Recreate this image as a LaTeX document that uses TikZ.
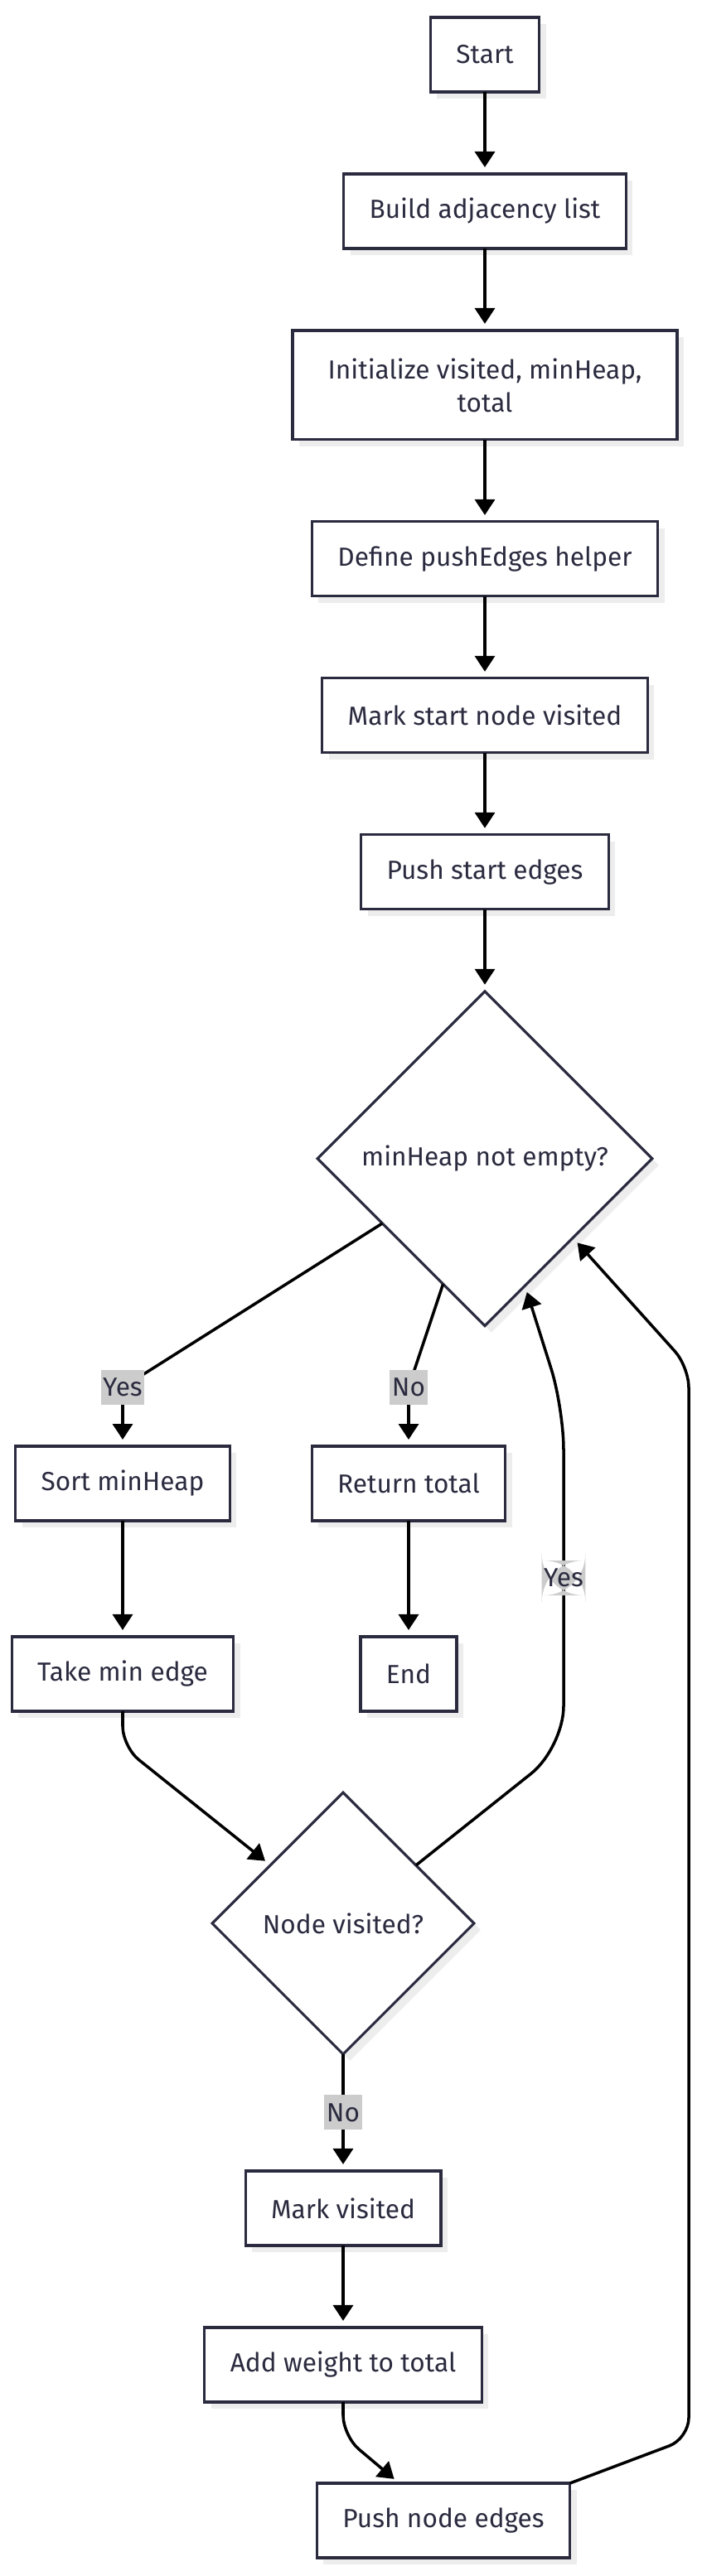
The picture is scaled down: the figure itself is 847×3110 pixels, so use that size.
\documentclass[tikz,border=0pt]{standalone}
\usepackage{fontspec}
\setmainfont{Fira Sans}
\usetikzlibrary{arrows.meta, positioning, shapes.geometric, shadows}
\definecolor{ink}{HTML}{2B2B40}
\definecolor{shade}{HTML}{EDEDED}
\definecolor{tag}{HTML}{CCCCCC}
\newcommand{\flowfont}{\fontsize{18}{22.8}\selectfont}
\tikzset{
  box/.style={rectangle, draw=ink, line width=1.8pt, fill=white, text=ink,
    minimum height=1.8cm, inner xsep=0.62cm, outer sep=0pt, align=center, font=\flowfont,
    drop shadow={shadow xshift=0.16cm, shadow yshift=-0.16cm, fill=shade, opacity=1}},
  decision/.style={box, diamond, aspect=1, inner sep=0pt},
  arrow/.style={-{Triangle[length=0.38cm, width=0.48cm]}, line width=2pt, black, shorten >=0.16cm},
  lbl/.style={fill=tag, text=ink, font=\flowfont, inner xsep=0.05cm, outer sep=0pt, minimum height=0.84cm},
}

\begin{document}
\begin{tikzpicture}[x=0.02cm, y=-0.02cm, node distance=1.98cm]
\useasboundingbox (0,0) rectangle (847,3110);
% main column
\node[box] (start) at (585,66) {Start};
\node[box, below=of start] (build) {Build adjacency list};
\node[box, below=of build, minimum height=2.64cm, minimum width=9.28cm] (init) {Initialize visited, minHeap,\\total};
\node[box, below=of init] (define) {Define pushEdges helper};
\node[box, below=of define] (markstart) {Mark start node visited};
\node[box, below=of markstart] (pushstart) {Push start edges};
\node[decision, below=of pushstart, minimum size=8.08cm] (heap) {minHeap not empty?};
% branches
\node[box] (sort) at (148,1791) {Sort minHeap};
\node[box, below=2.8cm of sort] (take) {Take min edge};
\node[box] (ret) at (493,1791) {Return total};
\node[box, below=2.8cm of ret] (finish) {End};
\node[decision, minimum size=6.32cm] (visit) at (414,2322) {Node visited?};
\node[box, below=2.82cm of visit] (markv) {Mark visited};
\node[box, below=of markv] (addw) {Add weight to total};
\node[box] (pushnode) at (535,3043) {Push node edges};
% loop bends
\coordinate (yesup) at (680,2110);
\coordinate (yestop) at (680,1700);
\coordinate (pushturn) at (831,2944);
\coordinate (pushtop) at (831,1650);

\draw[arrow] (start) -- (build);
\draw[arrow] (build) -- (init);
\draw[arrow] (init) -- (define);
\draw[arrow] (define) -- (markstart);
\draw[arrow] (markstart) -- (pushstart);
\draw[arrow] (pushstart) -- (heap);
\draw[arrow] (heap) -- ([yshift=1.42cm]sort.north) node[lbl]{Yes} -- (sort);
\draw[arrow] (heap) -- ([yshift=1.42cm]ret.north) node[lbl]{No} -- (ret);
\draw[arrow] (sort) -- (take);
\draw[arrow] (ret) -- (finish);
\draw[arrow, rounded corners=0.5cm] (take.south) -- ([yshift=-0.86cm]take.south) -- (visit);
\draw[arrow, rounded corners=1cm] (visit) -- (yesup) -- node[lbl]{Yes} (yestop) -- (heap);
\draw[arrow] (visit) -- node[lbl]{No} (markv);
\draw[arrow] (markv) -- (addw);
\draw[arrow, rounded corners=0.5cm] (addw.south) -- ([yshift=-0.82cm]addw.south) -- (pushnode);
\draw[arrow, rounded corners=0.5cm] (pushnode.north east) -- (pushturn) -- (pushtop) -- (heap.-42);
\end{tikzpicture}
\end{document}
